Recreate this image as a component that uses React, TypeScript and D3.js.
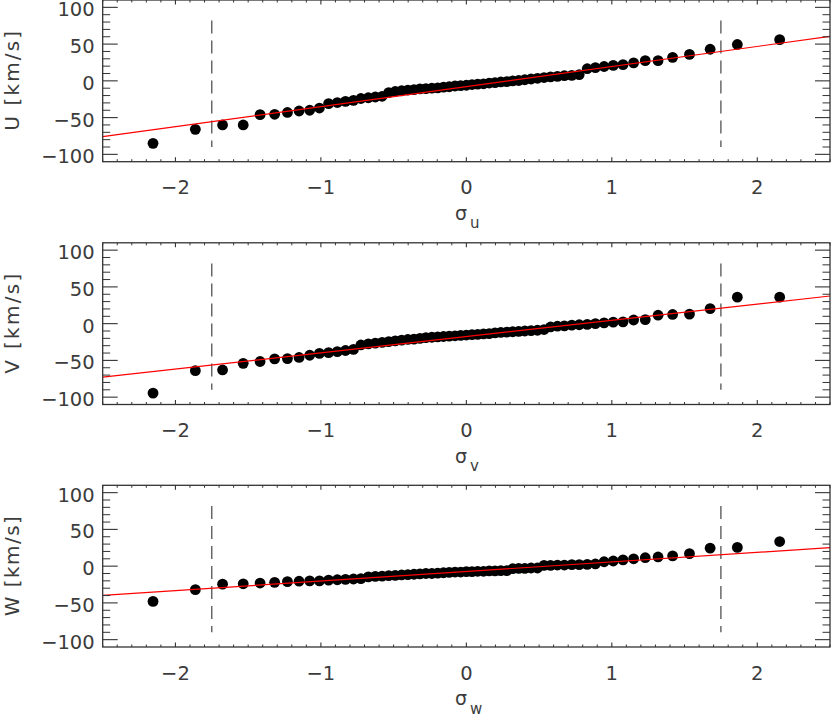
import React from 'react';
import * as d3 from 'd3';

// Normal quantiles (x positions) of the 63 sorted points
const sigma = [
  -2.154, -1.863, -1.676, -1.534, -1.418, -1.318, -1.230, -1.150, -1.077, -1.010,
  -0.947, -0.887, -0.831, -0.776, -0.725, -0.674, -0.626, -0.579, -0.534, -0.489,
  -0.445, -0.402, -0.360, -0.319, -0.278, -0.237, -0.197, -0.157, -0.118, -0.078,
  -0.039, 0.0, 0.039, 0.078, 0.118, 0.157, 0.197, 0.237, 0.278, 0.319,
  0.360, 0.402, 0.445, 0.489, 0.534, 0.579, 0.626, 0.674, 0.725, 0.776,
  0.831, 0.887, 0.947, 1.010, 1.077, 1.150, 1.230, 1.318, 1.418, 1.534,
  1.676, 1.863, 2.154,
];

const U = [
  -85, -66, -60, -60, -46, -45.5, -43, -41, -40, -37,
  -31, -29.5, -28, -26.5, -24, -23, -22, -21, -16, -14.5,
  -13.5, -12.5, -12, -11, -10.5, -10, -9.5, -8.5, -8, -7,
  -6.5, -6, -5, -4.5, -4, -3, -2.5, -1.5, -1, 0,
  0.5, 1.5, 2.5, 3.5, 4.5, 5.5, 6, 7, 7.5, 8.5,
  16.5, 18, 19.5, 21, 22, 24.5, 27.5, 27.5, 32, 36,
  43, 49.5, 56,
];

const V = [
  -94.5, -64, -63, -54, -51.5, -48, -47.5, -46, -43, -40.5,
  -39.5, -38, -36.5, -35, -29, -27.5, -26.5, -25.5, -24.5, -23.5,
  -22.5, -21.5, -21, -20, -19, -18.5, -18, -17.5, -17, -16.5,
  -16, -15.5, -15, -14.5, -14, -13.5, -12.5, -12, -11.5, -11,
  -10.5, -10, -9.5, -9, -8, -4.5, -3.5, -3, -2, -1.5,
  -1, 0, 1, 2, 2.5, 5, 5.5, 11.5, 12.5, 13,
  20.5, 36, 36,
];

const W = [
  -48, -32, -24.5, -24, -23, -22, -21, -20.5, -20, -20,
  -19, -18.5, -18, -17.5, -17, -14.5, -14, -13.5, -13, -12.5,
  -12, -11.5, -11, -10.5, -10, -10, -9.5, -9, -8.5, -8,
  -8, -7.5, -7.5, -7, -7, -6.5, -6.5, -6, -6, -3.5,
  -3, -3, -2.5, -2.5, 1, 1, 1.5, 1.5, 2, 2,
  2.5, 3, 6, 7, 8.5, 10, 11.5, 12.5, 14, 17,
  24.5, 25.5, 33.5,
];

// Fit line values at sigma = -2.5 and +2.5
const fitU = [-76, 60.5];
const fitV = [-72.8, 37.6];
const fitW = [-39.8, 25.3];

const xDomain = [-2.5, 2.5];
const yDomain = [-110, 110];
const yMajor = [-100, -50, 0, 50, 100];
const xMajor = [-2, -1, 0, 1, 2];
const cutoff = [-1.75, 1.75];
const cutoffY = [82, -90];

const panelLabels = ['U', 'V', 'W'];
const panelSubs = ['u', 'v', 'w'];

const W_PX = 831;
const H_PX = 716;
const left = 102.7;
const right = 830;
const panelTops = [0, 242.8, 485.3];
const panelH = 161.7;
const axisColor = '#333';
const textColor = '#3c3c3c';
const font = '"DejaVu Sans", sans-serif';

function Panel({ top, values, fit, label, sub }: any) {
  const x = d3.scaleLinear().domain(xDomain).range([left, right]);
  const y = d3.scaleLinear().domain(yDomain).range([top + panelH, top]);
  const xMinor = d3.range(-25, 26).map((v) => v / 10).filter((v) => Math.abs(v - Math.round(v)) > 1e-6);
  const yMinor = d3.range(-10, 11).map((v) => v * 10).filter((v) => v % 50 !== 0);
  const fmt = d3.format('d');
  const line = d3.line<number>().x((d, i) => x(xDomain[i])).y((d) => y(d));
  const bottom = top + panelH;
  return (
    <g>
      <defs>
        <clipPath id={`clip-${label}`}>
          <rect x={left} y={top} width={right - left} height={panelH} />
        </clipPath>
      </defs>
      {cutoff.map((c, i) => (
        <line key={i} x1={x(c)} x2={x(c)} y1={y(cutoffY[0])} y2={y(cutoffY[1])}
          stroke="#444" strokeWidth={1.2} strokeDasharray="13,7" />
      ))}
      <g clipPath={`url(#clip-${label})`}>
        {values.map((v: number, i: number) => (
          <circle key={i} cx={x(sigma[i])} cy={y(v)} r={5.4} fill="#000" />
        ))}
        <path d={line(fit) || ''} stroke="#ff0000" strokeWidth={1.2} fill="none" />
      </g>
      <rect x={left} y={top} width={right - left} height={panelH} fill="none" stroke={axisColor} strokeWidth={1.3} />
      {yMajor.map((t) => (
        <g key={`ym${t}`}>
          <line x1={left} x2={left + 15} y1={y(t)} y2={y(t)} stroke={axisColor} strokeWidth={1.1} />
          <line x1={right} x2={right - 15} y1={y(t)} y2={y(t)} stroke={axisColor} strokeWidth={1.1} />
          <text x={left - 8} y={y(t)} dy="0.46em" textAnchor="end" fontFamily={font} fontSize={19.5} fill={textColor}>{fmt(t)}</text>
        </g>
      ))}
      {yMinor.map((t) => (
        <g key={`yn${t}`}>
          <line x1={left} x2={left + 7.5} y1={y(t)} y2={y(t)} stroke={axisColor} strokeWidth={1} />
          <line x1={right} x2={right - 7.5} y1={y(t)} y2={y(t)} stroke={axisColor} strokeWidth={1} />
        </g>
      ))}
      {xMajor.map((t) => (
        <g key={`xm${t}`}>
          <line x1={x(t)} x2={x(t)} y1={bottom} y2={bottom - 4.5} stroke={axisColor} strokeWidth={1.1} />
          <line x1={x(t)} x2={x(t)} y1={top} y2={top + 4.5} stroke={axisColor} strokeWidth={1.1} />
          <text x={x(t)} y={bottom + 32.6} textAnchor="middle" fontFamily={font} fontSize={19.5} fill={textColor}>{fmt(t)}</text>
        </g>
      ))}
      {xMinor.map((t) => (
        <g key={`xn${t}`}>
          <line x1={x(t)} x2={x(t)} y1={bottom} y2={bottom - 2.5} stroke={axisColor} strokeWidth={1} />
          <line x1={x(t)} x2={x(t)} y1={top} y2={top + 2.5} stroke={axisColor} strokeWidth={1} />
        </g>
      ))}
      <text transform={`translate(18.5,${top + panelH / 2}) rotate(-90)`} textAnchor="middle"
        fontFamily={font} fontSize={20} fill={textColor} textLength={100} lengthAdjust="spacing">{`${label} [km/s]`}</text>
      <text x={455} y={bottom + 58} fontFamily={font} fontSize={19} fill={textColor}>
        σ<tspan dx={3} dy={8.5} fontSize={15}>{sub}</tspan>
      </text>
    </g>
  );
}

export default function App() {
  const data = [U, V, W];
  const fits = [fitU, fitV, fitW];
  return (
    <svg width={W_PX} height={H_PX} style={{ position: 'absolute', left: 0, top: 0, background: '#fff' }}>
      <rect x={0} y={0} width={W_PX} height={H_PX} fill="#fff" />
      {panelTops.map((t, i) => (
        <Panel key={i} top={t} values={data[i]} fit={fits[i]} label={panelLabels[i]} sub={panelSubs[i]} />
      ))}
    </svg>
  );
}
